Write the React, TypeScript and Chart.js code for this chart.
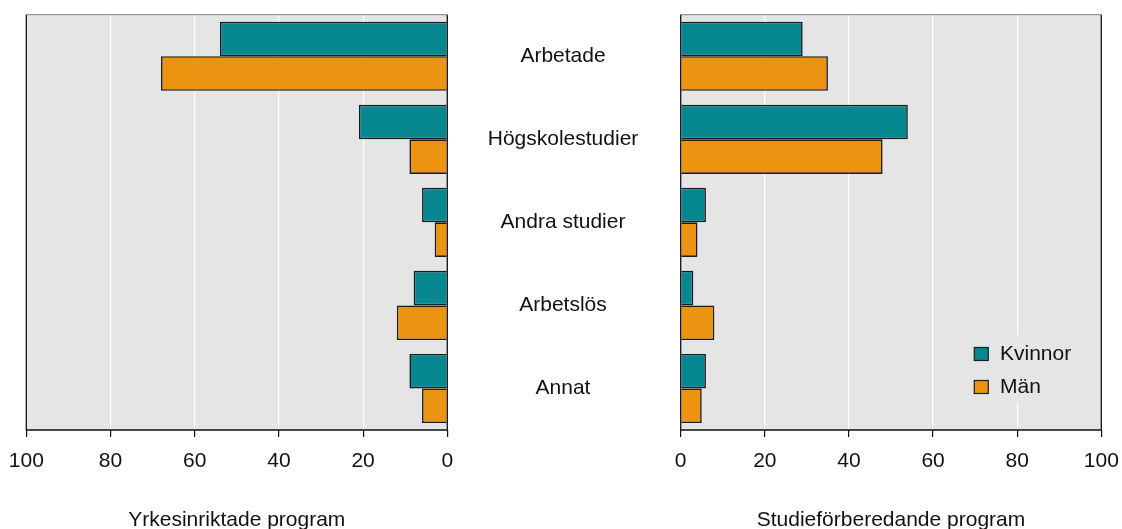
import React, { useEffect, useRef } from "react";
import { Chart, registerables } from "chart.js";

Chart.register(...registerables);

const categories = ["Arbetade", "Högskolestudier", "Andra studier", "Arbetslös", "Annat"];
const seriesNames = ["Kvinnor", "Män"];
const yrkesKvinnor = [54, 21, 6, 8, 9];
const yrkesMan = [68, 9, 3, 12, 6];
const studieKvinnor = [29, 54, 6, 3, 6];
const studieMan = [35, 48, 4, 8, 5];
const axisMin = 0;
const axisMax = 100;
const axisStep = 20;
const leftTitle = "Yrkesinriktade program";
const rightTitle = "Studieförberedande program";

const TEAL = "#07878F";
const ORANGE = "#EC9312";
const BORDER = "#1c1c1c";
const PANEL = "#E5E5E5";
const FONT = 'Arial, "Liberation Sans", sans-serif';

const panelPlugin = {
  id: "panel",
  beforeDraw(chart: any) {
    const { ctx, chartArea: a } = chart;
    ctx.save();
    ctx.fillStyle = PANEL;
    ctx.fillRect(a.left, a.top, a.right - a.left, a.bottom - a.top);
    ctx.restore();
  },
  afterDatasetsDraw(chart: any) {
    const { ctx, chartArea: a } = chart;
    ctx.save();
    ctx.lineWidth = 1.3;
    ctx.strokeStyle = "#9a9a9a";
    ctx.beginPath();
    ctx.moveTo(a.left, a.top);
    ctx.lineTo(a.right, a.top);
    ctx.stroke();
    ctx.strokeStyle = "#111";
    ctx.beginPath();
    ctx.moveTo(a.left, a.top);
    ctx.lineTo(a.left, a.bottom);
    ctx.lineTo(a.right, a.bottom);
    ctx.lineTo(a.right, a.top);
    ctx.stroke();
    ctx.restore();
  },
};

const legendPlugin = {
  id: "innerLegend",
  afterDatasetsDraw(chart: any) {
    const { ctx, chartArea: a } = chart;
    const x0 = a.left + 0.698 * (a.right - a.left);
    const yTop = 335;
    ctx.save();
    ctx.fillStyle = PANEL;
    ctx.fillRect(x0 - 10, yTop, 120, 68);
    chart.data.datasets.forEach((ds: any, i: number) => {
      const cy = yTop + 19 + i * 33;
      ctx.fillStyle = ds.backgroundColor;
      ctx.fillRect(x0, cy - 6.5, 14, 13);
      ctx.lineWidth = 1.2;
      ctx.strokeStyle = BORDER;
      ctx.strokeRect(x0, cy - 6.5, 14, 13);
      ctx.fillStyle = "#111";
      ctx.font = `21px ${FONT}`;
      ctx.textBaseline = "middle";
      ctx.textAlign = "left";
      ctx.fillText(ds.label, x0 + 25.7, cy);
    });
    ctx.restore();
  },
};

function makeDatasets(k: number[], m: number[]) {
  return [
    {
      label: seriesNames[0],
      data: k,
      backgroundColor: TEAL,
      borderColor: BORDER,
      borderWidth: 1.6,
      categoryPercentage: 0.833,
      barPercentage: 1,
    },
    {
      label: seriesNames[1],
      data: m,
      backgroundColor: ORANGE,
      borderColor: BORDER,
      borderWidth: 1.6,
      categoryPercentage: 0.833,
      barPercentage: 1,
    },
  ];
}

function xScale(reverse: boolean, title: string) {
  return {
    type: "linear",
    min: axisMin,
    max: axisMax,
    reverse,
    ticks: {
      stepSize: axisStep,
      color: "#111",
      font: { size: 21, family: FONT },
      padding: 12,
      maxRotation: 0,
    },
    grid: {
      color: "#ffffff",
      lineWidth: 1.2,
      tickColor: "#111",
      tickLength: 7,
      drawTicks: true,
    },
    border: { display: false },
    title: {
      display: true,
      text: title,
      color: "#111",
      font: { size: 21, family: FONT },
      padding: { top: 0, bottom: -3.5 },
    },
    afterFit: (s: any) => {
      s.height = 99;
      s.paddingLeft = 0;
      s.paddingRight = 0;
    },
  };
}

export default function App() {
  const leftRef = useRef<HTMLCanvasElement>(null);
  const rightRef = useRef<HTMLCanvasElement>(null);

  useEffect(() => {
    document.body.style.margin = "0";
    Chart.defaults.font.family = FONT;
    const left = new Chart(leftRef.current as HTMLCanvasElement, {
      type: "bar",
      data: { labels: categories, datasets: makeDatasets(yrkesKvinnor, yrkesMan) as any },
      options: {
        animation: false,
        responsive: false,
        indexAxis: "y",
        layout: { padding: { left: 26.3, right: 12.7, top: 14.7, bottom: 0 } },
        plugins: { legend: { display: false }, tooltip: { enabled: false } },
        scales: {
          x: xScale(true, leftTitle) as any,
          y: { type: "category", display: false },
        },
      },
      plugins: [panelPlugin],
    });
    const right = new Chart(rightRef.current as HTMLCanvasElement, {
      type: "bar",
      data: { labels: categories, datasets: makeDatasets(studieKvinnor, studieMan) as any },
      options: {
        animation: false,
        responsive: false,
        indexAxis: "y",
        layout: { padding: { left: 0, right: 20.7, top: 14.7, bottom: 0 } },
        plugins: { legend: { display: false }, tooltip: { enabled: false } },
        scales: {
          x: xScale(false, rightTitle) as any,
          y: {
            type: "category",
            position: "left",
            grid: { display: false, drawTicks: false },
            border: { display: false },
            ticks: {
              color: "#111",
              font: { size: 21, family: FONT },
              crossAlign: "center",
              padding: 42.4,
            },
            afterFit: (s: any) => {
              s.width = 240.7;
              s.paddingTop = 0;
              s.paddingBottom = 0;
            },
          } as any,
        },
      },
      plugins: [panelPlugin, legendPlugin],
    });
    return () => {
      left.destroy();
      right.destroy();
    };
  }, []);

  return (
    <div style={{ position: "relative", width: 1122, height: 529, overflow: "hidden", background: "#fff" }}>
      <canvas ref={leftRef} width={460} height={529} style={{ position: "absolute", left: 0, top: 0 }} />
      <canvas ref={rightRef} width={682} height={529} style={{ position: "absolute", left: 440, top: 0 }} />
    </div>
  );
}
